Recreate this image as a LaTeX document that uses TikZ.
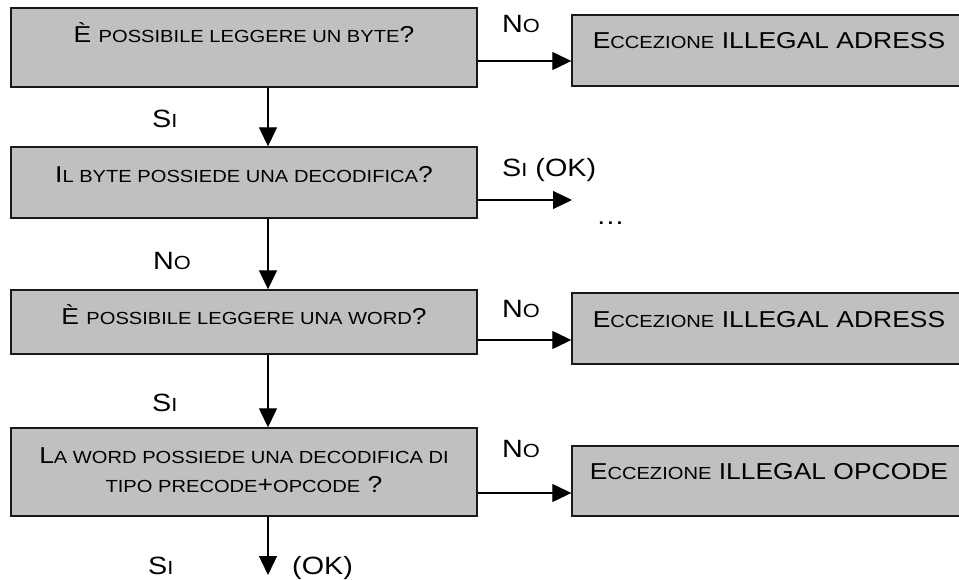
\documentclass[tikz,border=0pt]{standalone}
\usepackage{fontspec}
\setmainfont{Liberation Sans}[FakeStretch=1.15]
\usetikzlibrary{arrows.meta}
% small capitals built from reduced upper-case letters
\newcommand\bsc[1]{{\fontsize{17.5}{29}\selectfont #1}}
\newcommand\lsc[1]{{\fontsize{19}{29}\selectfont #1}}
\begin{document}
\begin{tikzpicture}[x=1pt,y=-1pt,
  qbox/.style={draw=black!90,line width=1.4pt,fill=boxgray,rectangle,inner sep=0pt},
  qtext/.style={anchor=base,inner sep=0pt,font=\fontsize{23}{29}\selectfont,align=center},
  lbl/.style={anchor=base west,inner sep=0pt,font=\fontsize{25}{29}\selectfont},
  arr/.style={line width=1.3pt,-{Triangle[length=19pt,width=18pt]}}]
\definecolor{boxgray}{HTML}{C0C0C0}
\clip (0,0) rectangle (959,580);
\fill[white] (0,0) rectangle (959,580);

% decision boxes on the left
\node[qbox,minimum width=466pt,minimum height=79pt] (b1) at (244,47.5) {};
\node[qbox,minimum width=466pt,minimum height=71pt] (b2) at (244,182.5) {};
\node[qbox,minimum width=466pt,minimum height=64pt] (b3) at (244,322) {};
\node[qbox,minimum width=466pt,minimum height=88pt] (b4) at (244,472) {};
% exception boxes on the right
\node[qbox,minimum width=394pt,minimum height=71pt] (r1) at (769,50.5) {};
\node[qbox,minimum width=394pt,minimum height=71pt] (r2) at (769,328.5) {};
\node[qbox,minimum width=394pt,minimum height=70pt] (r3) at (769,481) {};

% box texts (for the two-line text, base is the last line)
\node[qtext] (t1) at ([yshift=-35pt]b1.north) {È \bsc{POSSIBILE LEGGERE UN BYTE}?};
\node[qtext] (t2) at ([yshift=-36pt]b2.north) {I\bsc{L BYTE POSSIEDE UNA DECODIFICA}?};
\node[qtext] (t3) at ([yshift=-35pt]b3.north) {È \bsc{POSSIBILE LEGGERE UNA WORD}?};
\node[qtext] (t4) at ([yshift=-65pt]b4.north) {L\bsc{A WORD POSSIEDE UNA DECODIFICA DI}\\\bsc{TIPO PRECODE}+\bsc{OPCODE} ?};
\node[qtext] (s1) at ([yshift=-34pt]r1.north) {E\bsc{CCEZIONE} ILLEGAL ADRESS};
\node[qtext] (s2) at ([yshift=-35pt]r2.north) {E\bsc{CCEZIONE} ILLEGAL ADRESS};
\node[qtext] (s3) at ([yshift=-34pt]r3.north) {E\bsc{CCEZIONE} ILLEGAL OPCODE};

% connectors
\coordinate (spine) at (268,0);
\coordinate (okr) at (572,200);
\coordinate (okd) at (268,575);
\draw[arr] (b1.south -| spine) -- (b2.north -| spine);
\draw[arr] (b2.south -| spine) -- (b3.north -| spine);
\draw[arr] (b3.south -| spine) -- (b4.north -| spine);
\draw[arr] (b4.south -| spine) -- (okd);
\draw[arr] ([yshift=-13.5pt]b1.east) -- ([yshift=-13.5pt]b1.east -| r1.west);
\draw[arr] (b2.east |- okr) -- (okr);
\draw[arr] ([yshift=-18pt]b3.east) -- ([yshift=-18pt]b3.east -| r2.west);
\draw[arr] ([yshift=-21pt]b4.east) -- ([yshift=-21pt]b4.east -| r3.west);

% branch labels
\node[lbl] (n1) at (502,33) {N\lsc{O}};
\node[lbl] (y1) at (152,128) {S\lsc{I}};
\node[lbl] (y2) at (502,177) {S\lsc{I} (OK)};
\node[lbl] (dots) at (596,225) {…};
\node[lbl] (n2) at (153,270) {N\lsc{O}};
\node[lbl] (n3) at (502,317) {N\lsc{O}};
\node[lbl] (y3) at (152,411) {S\lsc{I}};
\node[lbl] (n4) at (502,457) {N\lsc{O}};
\node[lbl] (y4) at (148,574) {S\lsc{I}};
\node[lbl] (ok) at (292,574) {(OK)};
\end{tikzpicture}
\end{document}
